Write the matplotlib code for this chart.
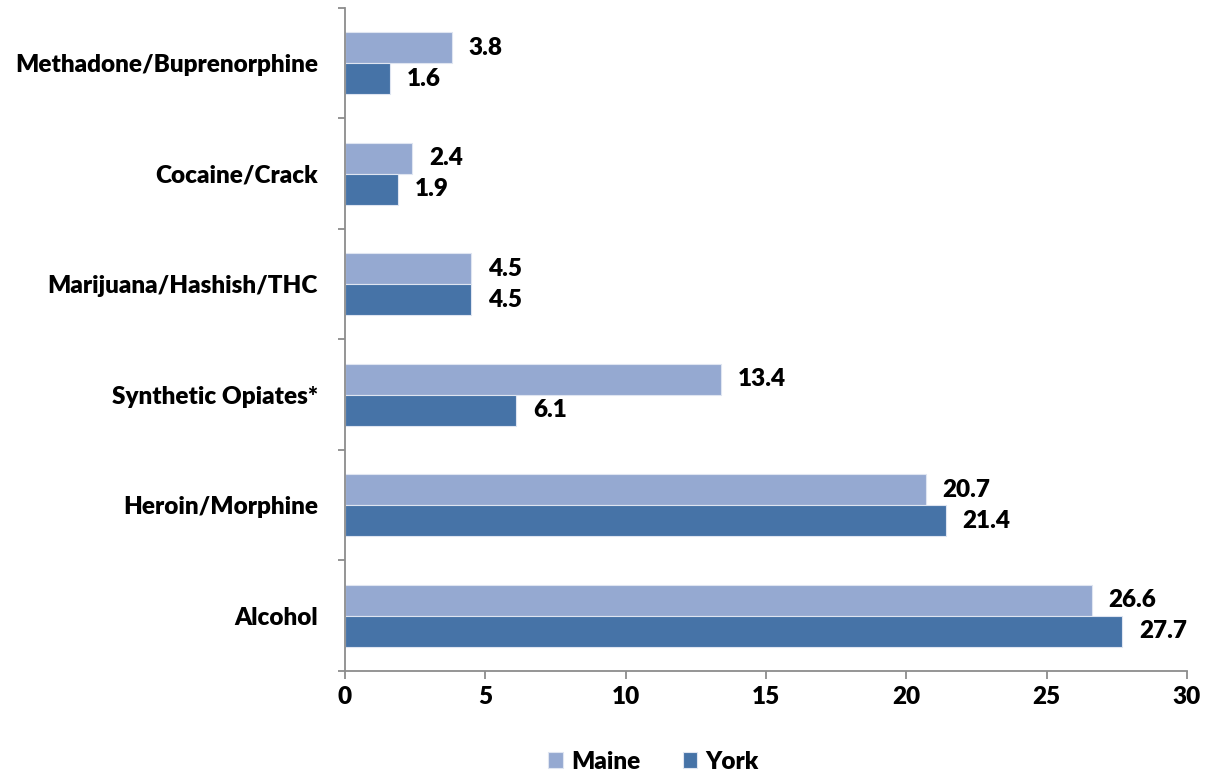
import numpy as np
import matplotlib.pyplot as plt
from matplotlib.ticker import FixedLocator

plt.rcParams['font.family'] = ['Lato', 'DejaVu Sans']
plt.rcParams['font.weight'] = 'heavy'

categories = ['Alcohol', 'Heroin/Morphine', 'Synthetic Opiates*',
              'Marijuana/Hashish/THC', 'Cocaine/Crack', 'Methadone/Buprenorphine']
maine = [26.6, 20.7, 13.4, 4.5, 2.4, 3.8]
york = [27.7, 21.4, 6.1, 4.5, 1.9, 1.6]

c_maine = '#95a9d1'
c_york = '#4673a7'
axis_grey = '#8c8c8c'
fs = 17.5

fig = plt.figure(figsize=(12.08, 7.74), dpi=100)
ax = fig.add_axes([0.2856, 0.1331, 0.697, 0.8566])

y = np.arange(len(categories))
h = 0.28
b1 = ax.barh(y + h / 2, maine, height=h, color=c_maine, edgecolor='#dfe5f1',
             linewidth=0.8, label='Maine')
b2 = ax.barh(y - h / 2, york, height=h, color=c_york, edgecolor='#dfe5f1',
             linewidth=0.8, label='York')

# value labels just right of each bar
for bars, vals in ((b1, maine), (b2, york)):
    for bar, v in zip(bars, vals):
        ax.annotate(f'{v:.1f}', (v, bar.get_y() + bar.get_height() / 2),
                    xytext=(12, 0), textcoords='offset points',
                    ha='left', va='center', fontsize=fs, fontweight='heavy')

ax.set_xlim(0, 30)
ax.set_ylim(-0.5, len(categories) - 0.5)
ax.set_xticks(range(0, 31, 5))
ax.set_yticks(y)
ax.set_yticklabels(categories)
# tick marks sit between the category groups
ax.yaxis.set_minor_locator(FixedLocator(np.arange(-0.5, len(categories), 1)))

ax.tick_params(axis='y', which='major', length=0, pad=19.5, labelsize=fs)
ax.tick_params(axis='y', which='minor', length=5, color=axis_grey, width=1.3)
ax.tick_params(axis='x', length=6, color=axis_grey, width=1.3, labelsize=fs, pad=5)

for s in ('top', 'right'):
    ax.spines[s].set_visible(False)
for s in ('left', 'bottom'):
    ax.spines[s].set_color(axis_grey)
    ax.spines[s].set_linewidth(1.3)

fig.legend(handles=[b1, b2], labels=['Maine', 'York'], loc='center',
           bbox_to_anchor=(0.541, 0.016), ncol=2, frameon=False,
           fontsize=fs, handlelength=0.58, handleheight=0.58,
           handletextpad=0.35, columnspacing=1.75)

fig.savefig('out.png', dpi=100)
